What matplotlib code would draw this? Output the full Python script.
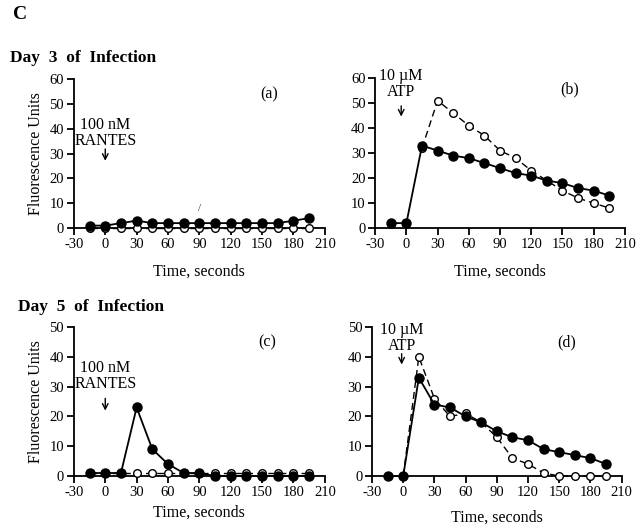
import matplotlib.pyplot as plt

plt.rcParams['font.family'] = ['Liberation Serif', 'DejaVu Serif']
plt.rcParams['axes.unicode_minus'] = False

# time points (seconds)
t = [-15, 0, 15, 30, 45, 60, 75, 90, 105, 120, 135, 150, 165, 180, 195]

# Day 3 (a) RANTES
a_filled = [1, 1, 2, 3, 2, 2, 2, 2, 2, 2, 2, 2, 2, 3, 4]
a_open = [0, 0, 0, 0, 0, 0, 0, 0, 0, 0, 0, 0, 0, 0, 0]

# Day 3 (b) ATP
b_filled = [2, 2, 33, 31, 29, 28, 26, 24, 22, 21, 19, 18, 16, 15, 13]
b_open_t = [15, 30, 45, 60, 75, 90, 105, 120, 135, 150, 165, 180, 195]
b_open = [32, 51, 46, 41, 37, 31, 28, 23, 19, 15, 12, 10, 8]

# Day 5 (c) RANTES
c_filled = [1, 1, 1, 23, 9, 4, 1, 1, 0, 0, 0, 0, 0, 0, 0]
c_open = [1, 1, 1, 1, 1, 1, 1, 1, 1, 1, 1, 1, 1, 1, 1]

# Day 5 (d) ATP
d_filled = [0, 0, 33, 24, 23, 20, 18, 15, 13, 12, 9, 8, 7, 6, 4]
d_open_t = [0, 15, 30, 45, 60, 75, 90, 105, 120, 135, 150, 165, 180, 195]
d_open = [0, 40, 26, 20, 21, 18, 13, 6, 4, 1, 0, 0, 0, 0]

xticks = [-30, 0, 30, 60, 90, 120, 150, 180, 210]

fig = plt.figure(figsize=(6.37, 5.28), dpi=100)


def style_axes(ax, ymax, ystep, pad):
    ax.set_xlim(-30, 210)
    ax.set_ylim(0, ymax)
    ax.set_xticks(xticks)
    ax.set_yticks(range(0, ymax + 1, ystep))
    for s in ['top', 'right']:
        ax.spines[s].set_visible(False)
    for s in ['left', 'bottom']:
        ax.spines[s].set_linewidth(1.3)
    ax.tick_params(direction='out', length=5, width=1.3, labelsize=10.5, pad=2)
    ax.set_xlabel('Time, seconds', fontsize=11.5, labelpad=pad)


def draw(ax, tf, yf, to, yo):
    ax.plot(to, yo, ls=(0, (5, 3)), color='black', lw=1.0, marker='o', ms=5.5,
            mfc='white', mec='black', mew=1.0, clip_on=False, zorder=3)
    ax.plot(tf, yf, ls='-', color='black', lw=1.3, marker='o', ms=6.5,
            mfc='black', mec='black', clip_on=False, zorder=4)


def stim(ax, x, label, ytxt, y0, y1):
    ax.text(x, ytxt, label, ha='center', va='center', fontsize=11.5, linespacing=1.0)
    ax.annotate('', xy=(x, y1), xytext=(x, y0),
                arrowprops=dict(arrowstyle='->', lw=1.0, color='black'))


ax_a = fig.add_axes([0.116, 0.568, 0.394, 0.282])
draw(ax_a, t, a_filled, t, a_open)
style_axes(ax_a, 60, 10, 9)
ax_a.set_ylabel('Fluorescence Units', fontsize=11.5, labelpad=4)
stim(ax_a, 0, '100 nM\nRANTES', 38.5, 33, 26)
ax_a.text(157, 54, '(a)', ha='center', va='center', fontsize=11.5)
ax_a.text(90, 8, '/', ha='center', va='center', fontsize=8, color='#333333')

ax_b = fig.add_axes([0.589, 0.568, 0.392, 0.284])
draw(ax_b, t, b_filled, b_open_t, b_open)
style_axes(ax_b, 60, 10, 9)
stim(ax_b, -5, '10 \u00b5M\nATP', 57.5, 50, 43.5)
ax_b.text(157, 55.5, '(b)', ha='center', va='center', fontsize=11.5)

ax_c = fig.add_axes([0.116, 0.0985, 0.394, 0.282])
draw(ax_c, t, c_filled, t, c_open)
style_axes(ax_c, 50, 10, 4)
ax_c.set_ylabel('Fluorescence Units', fontsize=11.5, labelpad=4)
stim(ax_c, 0, '100 nM\nRANTES', 33.5, 27, 21)
ax_c.text(155, 45, '(c)', ha='center', va='center', fontsize=11.5)

ax_d = fig.add_axes([0.584, 0.0985, 0.392, 0.282])
draw(ax_d, t, d_filled, d_open_t, d_open)
style_axes(ax_d, 50, 10, 8)
stim(ax_d, -1.5, '10 \u00b5M\nATP', 46.5, 42, 36.5)
ax_d.text(157, 45, '(d)', ha='center', va='center', fontsize=11.5)

fig.text(0.02, 0.973, 'C', fontsize=14, fontweight='bold', va='center', ha='left')
fig.text(0.016, 0.890, 'Day  3  of  Infection', fontsize=12.5, fontweight='bold', va='center', ha='left')
fig.text(0.028, 0.419, 'Day  5  of  Infection', fontsize=12.5, fontweight='bold', va='center', ha='left')

fig.savefig('out.png', dpi=100)
